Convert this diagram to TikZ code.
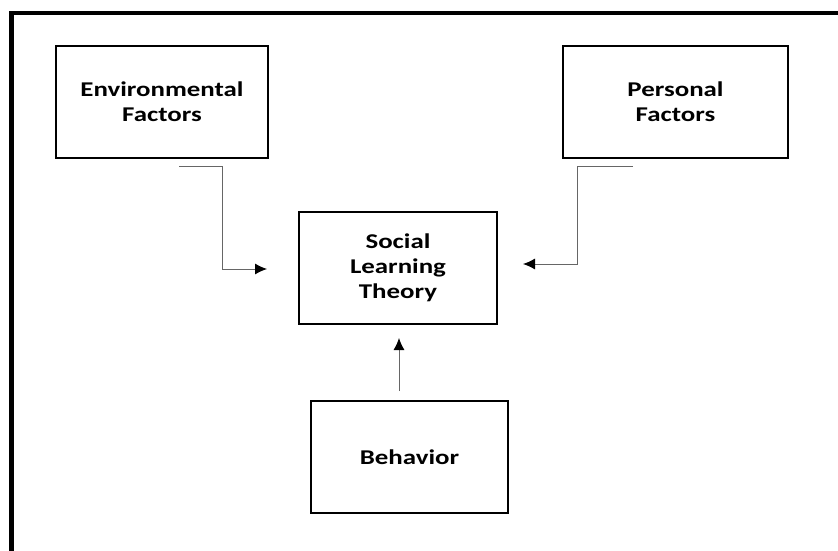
\documentclass[tikz,border=0pt]{standalone}
\usepackage{fontspec}
\setmainfont{Carlito}[FakeStretch=1.28]
\usetikzlibrary{arrows.meta}

\begin{document}
\begin{tikzpicture}[x=1pt,y=-1pt]
	\tikzstyle{box} = [draw, rectangle, line width=1.6pt, minimum width=#1, minimum height=112pt, align=center, font=\fontsize{21}{25}\selectfont\bfseries]
	\tikzstyle{link} = [draw=black!60, line width=0.9pt, -{Latex[length=12pt,width=11pt,black]}]
	\clip (0,0) rectangle (838,551);
	\draw[line width=4.8pt] (11.5,600) -- (11.5,13) -- (900,13);
	\node[box=212pt] (env) at (162,102) {Environmental\\Factors};
	\node[box=225pt] (pers) at (675.5,102) {Personal\\Factors};
	\node[box=198pt] (slt) at (398,268) {Social\\Learning\\Theory};
	\node[box=197pt] (beh) at (409.5,457) {Behavior};
	\coordinate (envA) at (179,166);
	\coordinate (envC) at (222,269);
	\coordinate (envB) at (267,269);
	\coordinate (persA) at (633,166);
	\coordinate (persC) at (577,264);
	\coordinate (persB) at (523,264);
	\coordinate (behA) at (399,391);
	\coordinate (behB) at (399,338);
	\draw[link] (envA) -| (envC) -- (envB);
	\draw[link] (persA) -| (persC) -- (persB);
	\draw[link] (behA) -- (behB);
\end{tikzpicture}
\end{document}
